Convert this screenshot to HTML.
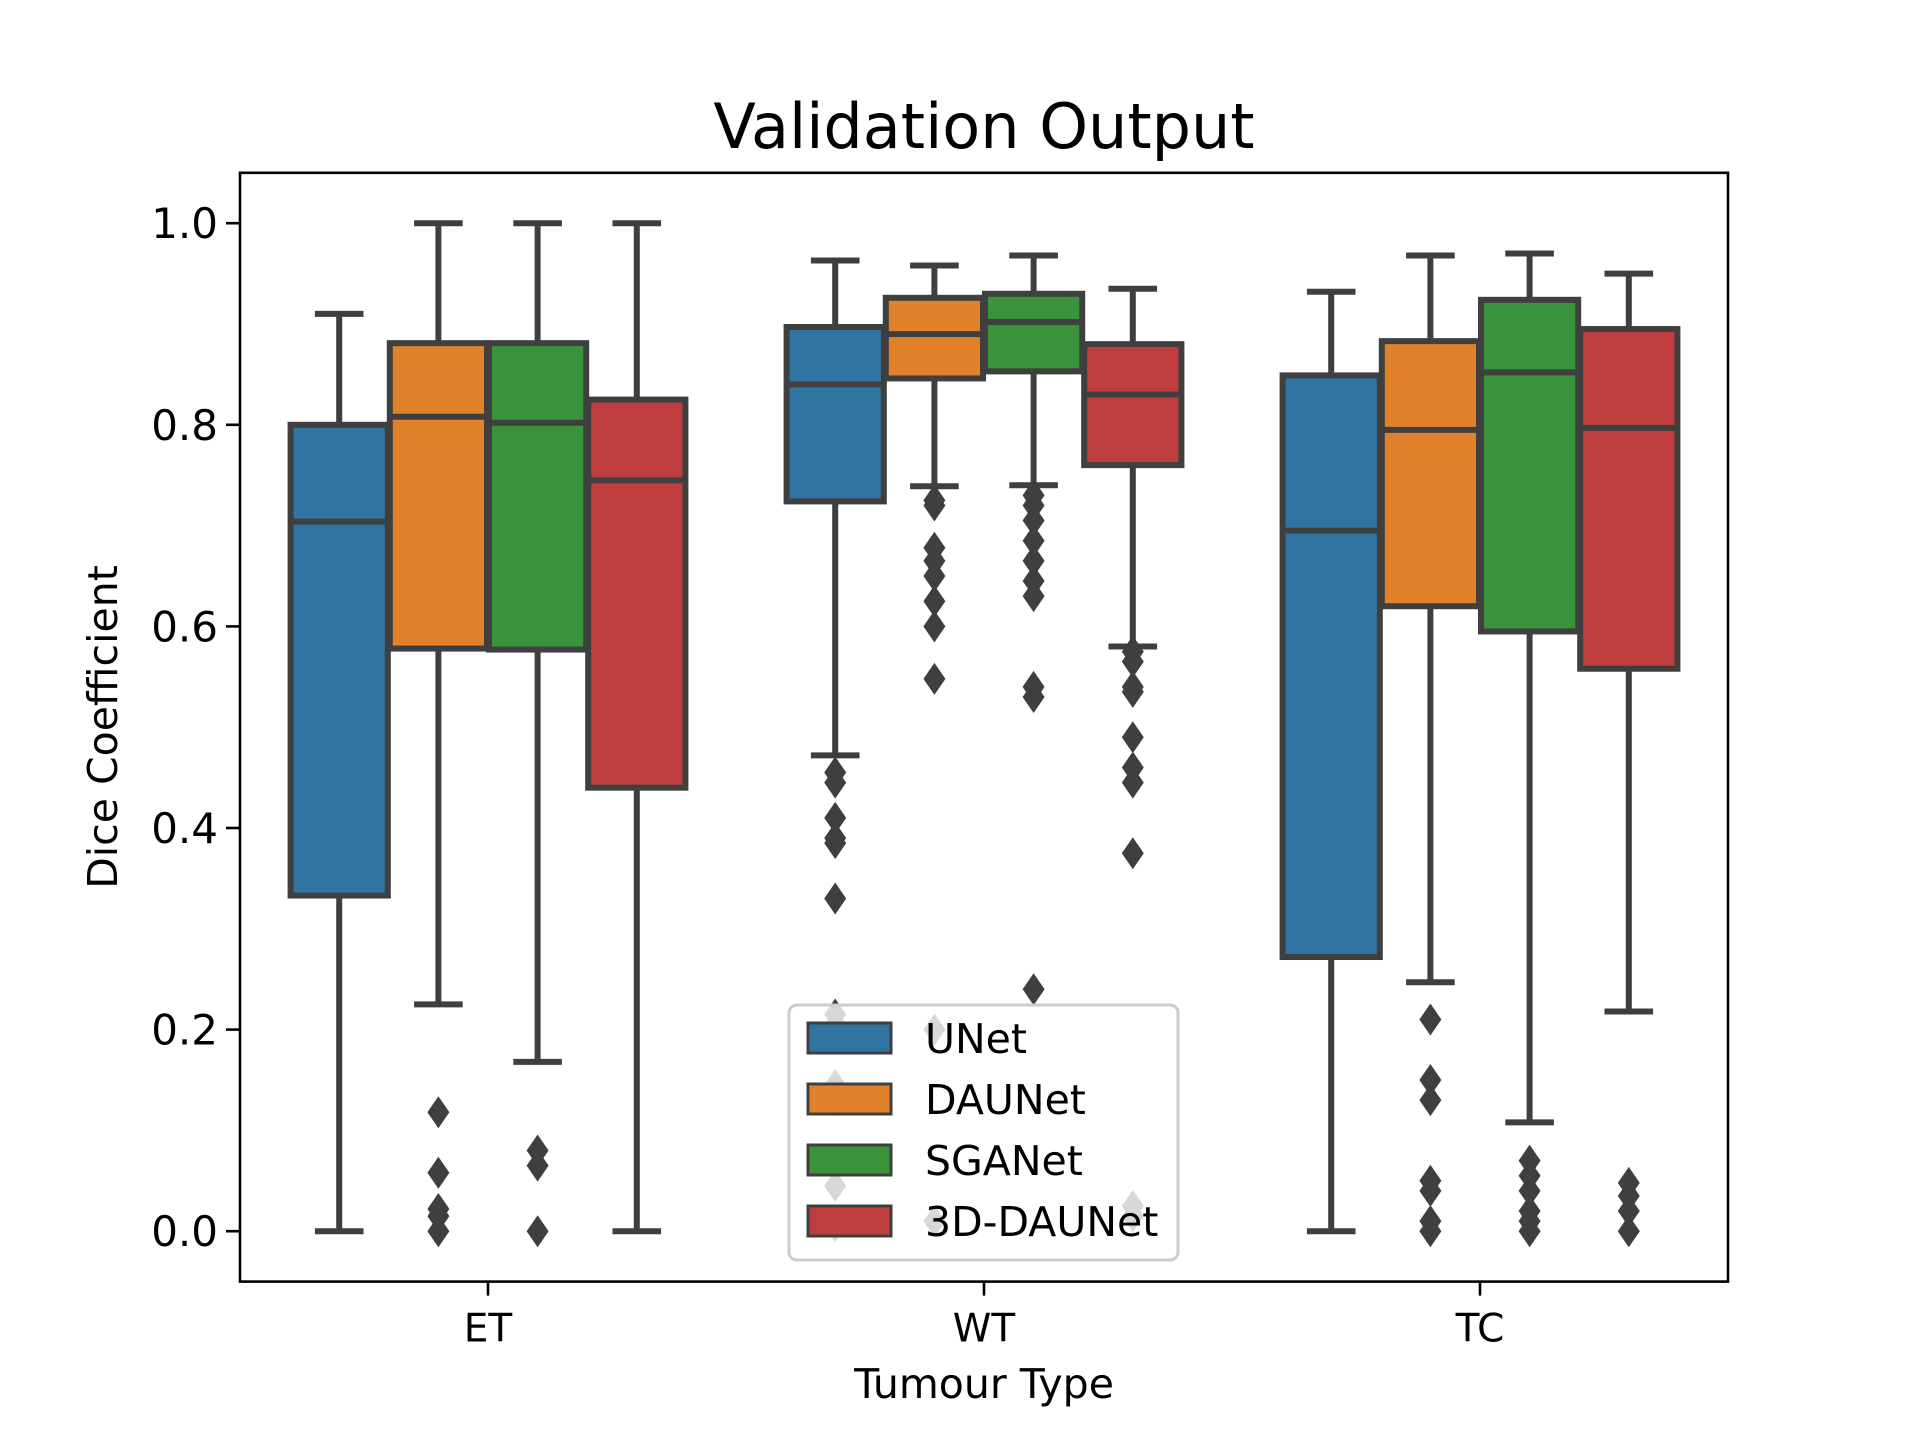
<!DOCTYPE html>
<html><head><meta charset="utf-8"><style>
html,body{margin:0;padding:0;background:#fff;}
svg{display:block;font-family:"DejaVu Sans","Liberation Sans",sans-serif;}
</style></head><body>
<svg id="chart" width="1920" height="1440" viewBox="0 0 1920 1440" xmlns="http://www.w3.org/2000/svg">
<rect width="1920" height="1440" fill="#fff"/>
<text x="984" y="148" font-size="62" text-anchor="middle">Validation Output</text>
<g id="plot"></g>
<rect x="240" y="172.8" width="1488" height="1108.8" fill="none" stroke="#000" stroke-width="2.6"/>
<text transform="translate(117,727) rotate(-90)" font-size="41" text-anchor="middle">Dice Coefficient</text>
<text x="984" y="1398" font-size="41" text-anchor="middle">Tumour Type</text>
<g id="legend"></g>
</svg>
<script>
const categories = ["ET","WT","TC"];
const series = ["UNet","DAUNet","SGANet","3D-DAUNet"];
const colors = ["#3274a1","#e1812c","#3a923a","#c03d3e"];
// [low whisker, Q1, median, Q3, high whisker] per category, per series
const unetStats  = [[0,0.333,0.704,0.80,0.91],[0.472,0.724,0.84,0.897,0.963],[0,0.272,0.695,0.849,0.932]];
const daunetStats= [[0.225,0.578,0.808,0.881,1.0],[0.739,0.846,0.89,0.926,0.958],[0.247,0.62,0.795,0.883,0.968]];
const sganetStats= [[0.168,0.577,0.802,0.881,1.0],[0.74,0.853,0.902,0.93,0.968],[0.108,0.595,0.852,0.924,0.97]];
const d3Stats    = [[0,0.44,0.745,0.825,1.0],[0.58,0.76,0.83,0.88,0.935],[0.218,0.558,0.797,0.895,0.95]];
const unetFliers  = [[],[0.455,0.445,0.41,0.39,0.385,0.33,0.215,0.205,0.145,0.13,0.045,0.005],[]];
const daunetFliers= [[0.118,0.058,0.022,0.015,0.0],[0.725,0.72,0.678,0.665,0.65,0.625,0.6,0.548,0.2,0.01],[0.21,0.15,0.13,0.05,0.04,0.01,0.0]];
const sganetFliers= [[0.08,0.065,0.0],[0.73,0.72,0.705,0.685,0.665,0.645,0.63,0.54,0.53,0.24],[0.07,0.055,0.04,0.02,0.01,0.0]];
const d3Fliers    = [[],[0.575,0.565,0.54,0.535,0.49,0.46,0.445,0.375,0.025,0.015],[0.048,0.035,0.02,0.0]];
const yTicks = [0,0.2,0.4,0.6,0.8,1.0];
const yTickLabels = ["0.0","0.2","0.4","0.6","0.8","1.0"];

const NS="http://www.w3.org/2000/svg";
const X0=240,X1=1728,Y0=172.8,Y1=1281.6;
function y(v){return Y1-(v+0.05)/1.1*(Y1-Y0);}
function x(c){return X0+(c+0.5)/3*(X1-X0);}
const unit=(X1-X0)/3;
function mk(tag,attrs,parent){const e=document.createElementNS(NS,tag);for(const k in attrs)e.setAttribute(k,attrs[k]);parent.appendChild(e);return e;}
const plot=document.getElementById('plot');
const svg=document.getElementById('chart');
const allStats=[unetStats,daunetStats,sganetStats,d3Stats];
const allFliers=[unetFliers,daunetFliers,sganetFliers,d3Fliers];
const EC="#3f3f3f",LW=6;
yTicks.forEach((t,i)=>{
  const l=mk('line',{x1:X0-14,x2:X0,y1:y(t),y2:y(t),stroke:'#000','stroke-width':2.6},svg);
  
  
  const tx=mk('text',{x:X0-22,y:y(t)+15,'font-size':42,'text-anchor':'end'},svg);
  tx.textContent=yTickLabels[i];
  
  
});
categories.forEach((c,ci)=>{
  const l=mk('line',{x1:x(ci),x2:x(ci),y1:Y1,y2:Y1+14,stroke:'#000','stroke-width':2.6},svg);
  
  
  const tx=mk('text',{x:x(ci),y:Y1+60,'font-size':39,'text-anchor':'middle'},svg);
  tx.textContent=c;
  
  
});
const bw=unit*0.2*0.98;
categories.forEach((c,ci)=>{
  series.forEach((s,si)=>{
    const cx=x(ci)+(si-1.5)*unit*0.2;
    const st=allStats[si][ci];
    const g=mk('g',{},plot);
    
    
    mk('line',{x1:cx,x2:cx,y1:y(st[0]),y2:y(st[1]),stroke:EC,'stroke-width':LW},g);
    mk('line',{x1:cx,x2:cx,y1:y(st[3]),y2:y(st[4]),stroke:EC,'stroke-width':LW},g);
    mk('line',{x1:cx-bw/4,x2:cx+bw/4,y1:y(st[0]),y2:y(st[0]),stroke:EC,'stroke-width':LW},g);
    mk('line',{x1:cx-bw/4,x2:cx+bw/4,y1:y(st[4]),y2:y(st[4]),stroke:EC,'stroke-width':LW},g);
    mk('rect',{x:cx-bw/2,y:y(st[3]),width:bw,height:y(st[1])-y(st[3]),fill:colors[si],stroke:EC,'stroke-width':LW},g);
    mk('line',{x1:cx-bw/2,x2:cx+bw/2,y1:y(st[2]),y2:y(st[2]),stroke:EC,'stroke-width':LW},g);
    allFliers[si][ci].forEach(v=>{
      const yy=y(v);
      const p=mk('polygon',{points:`${cx},${yy-16} ${cx+11},${yy} ${cx},${yy+16} ${cx-11},${yy}`,fill:EC},g);
      
      
    });
  });
});
const lg=document.getElementById('legend');


mk('rect',{x:789,y:1005,width:389,height:255,rx:8,fill:'#fff','fill-opacity':0.8,stroke:'#cccccc','stroke-width':3},lg);
series.forEach((s,si)=>{
  const cy=1038+si*61;
  const e=mk('g',{},lg);
  
  
  mk('rect',{x:808,y:cy-15,width:83,height:30,fill:colors[si],stroke:EC,'stroke-width':3},e);
  const t=mk('text',{x:925,y:cy+15,'font-size':41},e);
  t.textContent=s;
});
</script>
</body></html>
